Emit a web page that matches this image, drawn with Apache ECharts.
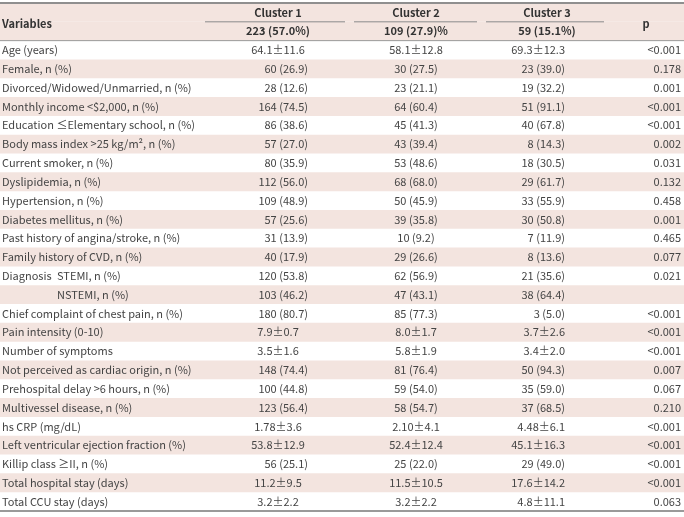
<!DOCTYPE html>
<html><head><meta charset="utf-8">
<script src="https://cdn.jsdelivr.net/npm/echarts@6/dist/echarts.min.js"></script>
<style>html,body{margin:0;padding:0;background:#fff}#c{width:684px;height:517px}</style>
</head><body><div id="c"></div>
<script>
// ---- data ----
const headerTitles = ['Variables', 'Cluster 1', 'Cluster 2', 'Cluster 3', 'p'];
const groupSizes = ['223 (57.0%)', '109 (27.9)%', '59 (15.1%)'];
const variables = [
  'Age (years)', 'Female, n (%)', 'Divorced/Widowed/Unmarried, n (%)', 'Monthly income <$2,000, n (%)',
  'Education \u2264Elementary school, n (%)', 'Body mass index >25 kg/m\u00b2, n (%)', 'Current smoker, n (%)',
  'Dyslipidemia, n (%)', 'Hypertension, n (%)', 'Diabetes mellitus, n (%)', 'Past history of angina/stroke, n (%)',
  'Family history of CVD, n (%)', 'Diagnosis|STEMI, n (%)', '|NSTEMI, n (%)', 'Chief complaint of chest pain, n (%)',
  'Pain intensity (0-10)', 'Number of symptoms', 'Not perceived as cardiac origin, n (%)',
  'Prehospital delay >6 hours, n (%)', 'Multivessel disease, n (%)', 'hs CRP (mg/dL)',
  'Left ventricular ejection fraction (%)', 'Killip class \u2265II, n (%)', 'Total hospital stay (days)', 'Total CCU stay (days)'
];
const cluster1 = ['64.1\u00b111.6','60 (26.9)','28 (12.6)','164 (74.5)','86 (38.6)','57 (27.0)','80 (35.9)','112 (56.0)','109 (48.9)','57 (25.6)','31 (13.9)','40 (17.9)','120 (53.8)','103 (46.2)','180 (80.7)','7.9\u00b10.7','3.5\u00b11.6','148 (74.4)','100 (44.8)','123 (56.4)','1.78\u00b13.6','53.8\u00b112.9','56 (25.1)','11.2\u00b19.5','3.2\u00b12.2'];
const cluster2 = ['58.1\u00b112.8','30 (27.5)','23 (21.1)','64 (60.4)','45 (41.3)','43 (39.4)','53 (48.6)','68 (68.0)','50 (45.9)','39 (35.8)','10 (9.2)','29 (26.6)','62 (56.9)','47 (43.1)','85 (77.3)','8.0\u00b11.7','5.8\u00b11.9','81 (76.4)','59 (54.0)','58 (54.7)','2.10\u00b14.1','52.4\u00b112.4','25 (22.0)','11.5\u00b110.5','3.2\u00b12.2'];
const cluster3 = ['69.3\u00b112.3','23 (39.0)','19 (32.2)','51 (91.1)','40 (67.8)','8 (14.3)','18 (30.5)','29 (61.7)','33 (55.9)','30 (50.8)','7 (11.9)','8 (13.6)','21 (35.6)','38 (64.4)','3 (5.0)','3.7\u00b12.6','3.4\u00b12.0','50 (94.3)','35 (59.0)','37 (68.5)','4.48\u00b16.1','45.1\u00b116.3','29 (49.0)','17.6\u00b114.2','4.8\u00b111.1'];
const pValues = ['<0.001','0.178','0.001','<0.001','<0.001','0.002','0.031','0.132','0.458','0.001','0.465','0.077','0.021','','<0.001','<0.001','<0.001','0.007','0.067','0.210','<0.001','<0.001','<0.001','<0.001','0.063'];

// ---- layout (positions / styles) ----
const W = 684;
const HEADER_ROWS = 2;
const rowKeys = ['h0', 'h1'].concat(variables.map((v, i) => 'r' + i));
const L = {
  labelX: 2, subLabelX: 57,
  c1Right: 308, c1Center: 278, c1Head: 278,
  c2Center: 416, c2Head: 416,
  c3Right: 565, c3Head: 547,
  pRight: 681, pHead: 646,
  spanOffset: 2,
  underlines: [[205, 345], [354, 477], [486, 604]]
};
const shade = '#f3e4df';
const font = '"Noto Sans CJK KR", "Noto Sans", sans-serif';

// text items: [x, row, text, align, bold, span]
const texts = [];
texts.push([L.labelX, 0, headerTitles[0], 'left', true, true]);
texts.push([L.c1Head, 0, headerTitles[1], 'center', true, false]);
texts.push([L.c2Head, 0, headerTitles[2], 'center', true, false]);
texts.push([L.c3Head, 0, headerTitles[3], 'center', true, false]);
texts.push([L.pHead, 0, headerTitles[4], 'center', true, true]);
texts.push([L.c1Head, 1, groupSizes[0], 'center', true, false]);
texts.push([L.c2Head, 1, groupSizes[1], 'center', true, false]);
texts.push([L.c3Head, 1, groupSizes[2], 'center', true, false]);
variables.forEach((v, i) => {
  const r = i + HEADER_ROWS;
  const parts = v.split('|');
  if (parts.length > 1) {
    if (parts[0]) texts.push([L.labelX, r, parts[0], 'left', false, false]);
    texts.push([L.subLabelX, r, parts[1], 'left', false, false]);
  } else {
    texts.push([L.labelX, r, v, 'left', false, false]);
  }
  const a = cluster1[i];
  if (a.indexOf('\u00b1') >= 0) texts.push([L.c1Center, r, a, 'center', false, false]);
  else texts.push([L.c1Right, r, a, 'right', false, false]);
  texts.push([L.c2Center, r, cluster2[i], 'center', false, false]);
  texts.push([L.c3Right, r, cluster3[i], 'right', false, false]);
  if (pValues[i]) texts.push([L.pRight, r, pValues[i], 'right', false, false]);
});

// shading: header + every other data row
const shadeData = rowKeys.map((k, idx) => {
  if (idx < HEADER_ROWS) return W;
  return ((idx - HEADER_ROWS) % 2 === 1) ? W : '-';
});

// rules: [x1, x2, rowBoundary(top of row idx), lineWidth, color]
const rules = [
  [0, W, 0, 2, '#8f8f8f'],
  [0, W, HEADER_ROWS, 1, '#9a9a9a'],
  [0, W, rowKeys.length, 2, '#9a9a9a']
];
L.underlines.forEach(u => rules.push([u[0], u[1], 1, 1, '#8a8a8a']));

const chart = echarts.init(document.getElementById('c'), null, { renderer: 'canvas' });
chart.setOption({
  animation: false,
  grid: { left: 0, right: 0, top: 3, bottom: 6 },
  xAxis: { type: 'value', min: 0, max: W, show: false },
  yAxis: { type: 'category', data: rowKeys, inverse: true, show: false, boundaryGap: true },
  series: [
    {
      type: 'bar', data: shadeData, barWidth: '100%', barCategoryGap: 0, silent: true, z: 0,
      itemStyle: { color: shade }
    },
    {
      type: 'custom', silent: true, z: 10,
      data: texts.map(t => [t[0], t[1]]),
      renderItem: function (params, api) {
        const t = texts[params.dataIndex];
        const p = api.coord([t[0], t[1]]);
        let y = p[1];
        if (t[5]) y = (p[1] + api.coord([t[0], t[1] + 1])[1]) / 2 + L.spanOffset;
        return {
          type: 'text',
          style: {
            text: t[2], x: p[0], y: y, align: t[3], verticalAlign: 'middle',
            font: (t[4] ? 'bold ' : '') + '11px ' + font,
            fill: t[4] ? '#333' : '#444'
          }
        };
      }
    },
    {
      type: 'custom', silent: true, z: 11,
      data: rules.map(r => [r[0], Math.min(r[2], rowKeys.length - 1)]),
      renderItem: function (params, api) {
        const r = rules[params.dataIndex];
        const band = api.size([0, 1])[1];
        const rowIdx = Math.min(r[2], rowKeys.length - 1);
        const c = api.coord([r[0], rowIdx]);
        const c2 = api.coord([r[1], rowIdx]);
        let y = c[1] - band / 2;
        if (r[2] >= rowKeys.length) y = c[1] + band / 2;
        return {
          type: 'line',
          shape: { x1: c[0], y1: y, x2: c2[0], y2: y },
          style: { stroke: r[4], lineWidth: r[3] }
        };
      }
    }
  ]
});
</script></body></html>
